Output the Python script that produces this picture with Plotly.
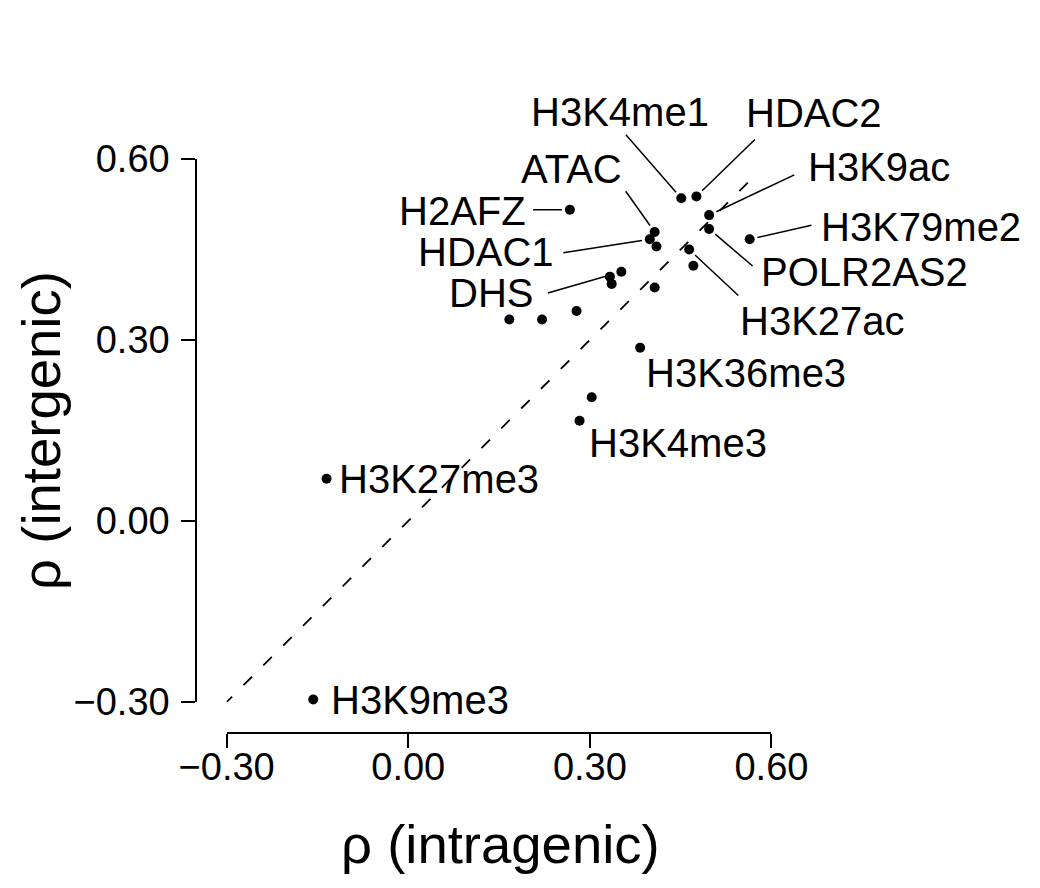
import plotly.graph_objects as go

# correlation of each mark with expression, intragenic vs intergenic
marks = ["H3K4me1", "HDAC2", "H2AFZ", "H3K9ac", "POLR2AS2", "H3K79me2", "ATAC", "HDAC1",
         "", "H3K27ac", "", "DHS", "", "", "", "", "", "",
         "H3K36me3", "", "H3K4me3", "H3K27me3", "H3K9me3"]
rho_intragenic = [0.451, 0.476, 0.267, 0.497, 0.497, 0.564, 0.407, 0.399,
                  0.410, 0.464, 0.471, 0.352, 0.333, 0.336, 0.407, 0.167, 0.221, 0.278,
                  0.383, 0.303, 0.283, -0.135, -0.157]
rho_intergenic = [0.535, 0.538, 0.516, 0.507, 0.484, 0.467, 0.479, 0.467,
                  0.455, 0.450, 0.423, 0.413, 0.405, 0.393, 0.387, 0.334, 0.334, 0.348,
                  0.287, 0.205, 0.166, 0.070, -0.296]

tick_vals = [-0.3, 0.0, 0.3, 0.6]
tick_text = ["\u22120.30", "0.00", "0.30", "0.60"]
diag = [-0.305, 0.578]

# label placement: text offset (px, right / up), leader tail offset (px, right / down) or None, anchor
label_pos = {
    "H3K4me1":  ((-61.7, 85.8), (-56.7, -65), "center"),
    "HDAC2":    ((117.5, 83.2), (60, -58.4), "center"),
    "ATAC":     ((-83.3, 63.3), (-30, -42.3), "center"),
    "H2AFZ":    ((-107.5, -1.7), (-38.3, 0), "center"),
    "HDAC1":    ((-164, -12.7), (-88, 13.7), "center"),
    "DHS":      ((-130.2, -21.3), (-75, 21.6), "center"),
    "H3K9ac":   ((169.9, 48.5), (86.7, -41), "center"),
    "H3K79me2": ((171.5, 12.6), (63.3, -14.3), "center"),
    "POLR2AS2": ((155.2, -43.5), (45, 38.3), "center"),
    "H3K27ac":  ((133.2, -71.7), (50.7, 47.4), "center"),
    "H3K36me3": ((4, -25.5), None, "left"),
    "H3K4me3":  ((7, -22), None, "left"),
    "H3K27me3": ((10.5, 0), None, "left"),
    "H3K9me3":  ((15.5, 0), None, "left"),
}

FONT = "Liberation Sans, Arial, Helvetica, sans-serif"

fig = go.Figure()

fig.add_trace(go.Scatter(
    x=diag, y=diag, mode="lines",
    line=dict(color="black", width=1.8, dash="12px,16px"),
    hoverinfo="skip"
))

fig.add_trace(go.Scatter(
    x=rho_intragenic, y=rho_intergenic, mode="markers",
    marker=dict(color="black", size=10),
    text=marks, cliponaxis=False,
    hovertemplate="%{text}<br>%{x:.2f}, %{y:.2f}<extra></extra>"
))

for name, xv, yv in zip(marks, rho_intragenic, rho_intergenic):
    if not name:
        continue
    (dx, dy), tail, anchor = label_pos[name]
    fig.add_annotation(x=xv, y=yv, text=name, showarrow=False,
                       xanchor=anchor, yanchor="middle", xshift=dx, yshift=dy,
                       font=dict(size=40, color="black", family=FONT))
    if tail:
        fig.add_annotation(x=xv, y=yv, text="", showarrow=True,
                           ax=tail[0], ay=tail[1], arrowhead=0, arrowwidth=1.5,
                           arrowcolor="black", standoff=8)

# axis titles
fig.add_annotation(x=0.4777, y=0.0489, xref="paper", yref="paper", text="\u03c1 (intragenic)",
                   xanchor="center", yanchor="middle", showarrow=False,
                   font=dict(size=54.5, color="black", family=FONT))
fig.add_annotation(x=0.0329, y=0.5205, xref="paper", yref="paper", text="\u03c1 (intergenic)",
                   xanchor="center", yanchor="middle", textangle=-90, showarrow=False,
                   font=dict(size=54.5, color="black", family=FONT))

axis_style = dict(
    range=[-0.3, 0.6], tickvals=tick_vals, ticktext=tick_text,
    showgrid=False, zeroline=False, showline=True, linecolor="black", linewidth=1.5,
    ticks="outside", ticklen=14, tickwidth=1.5, tickcolor="black",
    tickfont=dict(size=38, color="black", family=FONT),
    anchor="free", automargin=False
)

# page body adds an 8px margin, so the figure is 8px smaller than the window
fig.update_layout(
    width=1032, height=880,
    margin=dict(l=0, r=0, t=0, b=0),
    paper_bgcolor="white", plot_bgcolor="white",
    showlegend=False,
    font=dict(family=FONT, color="black"),
    xaxis=dict(axis_style, domain=[0.2119, 0.7398], position=0.1761, ticklabelstandoff=-13),
    yaxis=dict(axis_style, domain=[0.2114, 0.8284], position=0.1822, ticklabelstandoff=4),
)

fig.write_html("out.html")
